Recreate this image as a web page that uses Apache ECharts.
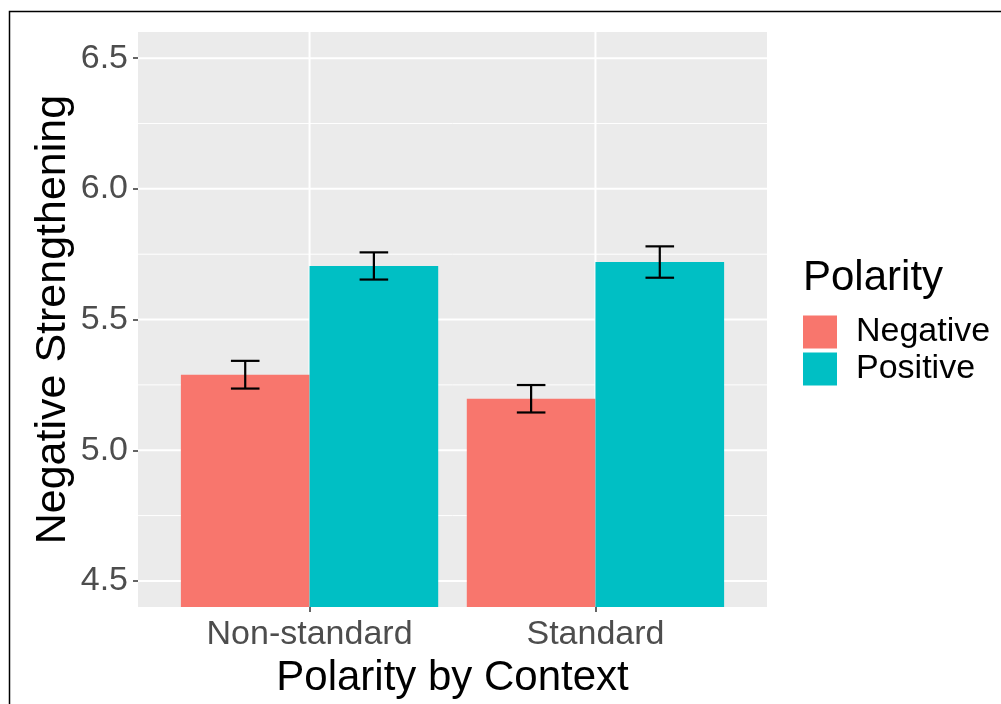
<!DOCTYPE html>
<html>
<head>
<meta charset="utf-8">
<script src="https://cdn.jsdelivr.net/npm/echarts@6/dist/echarts.min.js"></script>
<style>
html,body{margin:0;padding:0;background:#fff;}
#chart{width:1001px;height:704px;}
</style>
</head>
<body>
<div id="chart"></div>
<script>
// ---- data ----
var categories = ['Non-standard', 'Standard'];
var negativeMean = [5.289, 5.197];
var positiveMean = [5.705, 5.720];
var negativeSE = [0.053, 0.0525];
var positiveSE = [0.052, 0.060];
var yTicks = [4.5, 5.0, 5.5, 6.0, 6.5];
var yMinorTicks = [4.75, 5.25, 5.75, 6.25];
var xTicks = [1, 2];
var seriesNames = ['Negative', 'Positive'];

var FONT = 'Liberation Sans, Arial, sans-serif';
var COLORS = ['#F8766D', '#00BFC4'];
var DODGE = 0.225, BAR_W = 0.45, WHISKER = 0.1;
var Y_MIN = 4.4, Y_MAX = 6.6;

function barSeries(name, means, offset, color) {
  return {
    name: name,
    type: 'custom',
    z: 3,
    clip: true,
    itemStyle: {color: color},
    data: means.map(function (m, i) { return [i + 1, m]; }),
    renderItem: function (params, api) {
      var x = api.value(0) + offset;
      var p0 = api.coord([x - BAR_W / 2, api.value(1)]);
      var p1 = api.coord([x + BAR_W / 2, Y_MIN]);
      return {
        type: 'rect',
        shape: {x: p0[0], y: p0[1], width: p1[0] - p0[0], height: p1[1] - p0[1]},
        style: {fill: color}
      };
    }
  };
}

function errSeries(name, means, ses, offset) {
  return {
    name: name + ' SE',
    type: 'custom',
    z: 4,
    silent: true,
    data: means.map(function (m, i) { return [i + 1, m - ses[i], m + ses[i]]; }),
    renderItem: function (params, api) {
      var x = api.value(0) + offset;
      var lo = api.value(1), hi = api.value(2);
      var a = api.coord([x, lo]), b = api.coord([x, hi]);
      var l1 = api.coord([x - WHISKER / 2, lo]), r1 = api.coord([x + WHISKER / 2, lo]);
      var l2 = api.coord([x - WHISKER / 2, hi]), r2 = api.coord([x + WHISKER / 2, hi]);
      var st = {stroke: '#000', lineWidth: 2.2};
      return {
        type: 'group',
        children: [
          {type: 'line', shape: {x1: a[0], y1: a[1], x2: b[0], y2: b[1]}, style: st},
          {type: 'line', shape: {x1: l1[0], y1: l1[1], x2: r1[0], y2: r1[1]}, style: st},
          {type: 'line', shape: {x1: l2[0], y1: l2[1], x2: r2[0], y2: r2[1]}, style: st}
        ]
      };
    }
  };
}

// grid lines drawn through the axes' scales: [dim, value, width]
var gridData = []
  .concat(yMinorTicks.map(function (v) { return [1, v, 1]; }))
  .concat(yTicks.map(function (v) { return [1, v, 2]; }))
  .concat(xTicks.map(function (v) { return [0, v, 2]; }));

var gridSeries = {
  name: 'gridlines',
  type: 'custom',
  z: 1,
  silent: true,
  data: gridData,
  encode: {x: -1, y: -1},
  renderItem: function (params, api) {
    var cs = params.coordSys;
    var dim = api.value(0), v = api.value(1), w = api.value(2);
    var st = {stroke: '#fff', lineWidth: w};
    if (dim === 1) {
      var y = api.coord([1, v])[1];
      return {type: 'line', shape: {x1: cs.x, y1: y, x2: cs.x + cs.width, y2: y}, style: st};
    }
    var x = api.coord([v, 5])[0];
    return {type: 'line', shape: {x1: x, y1: cs.y, x2: x, y2: cs.y + cs.height}, style: st};
  }
};

var chart = echarts.init(document.getElementById('chart'), null, {renderer: 'canvas'});
chart.setOption({
  animation: false,
  backgroundColor: '#fff',
  textStyle: {fontFamily: FONT},
  grid: {
    left: 138, top: 32, right: 234, bottom: 96,
    show: true, backgroundColor: '#EBEBEB', borderWidth: 0,
    containLabel: false
  },
  legend: {
    data: seriesNames,
    orient: 'vertical',
    left: 803, top: 315,
    padding: 0,
    itemWidth: 34, itemHeight: 33, itemGap: 3,
    icon: 'rect',
    textStyle: {fontSize: 34, color: '#000', fontFamily: FONT, padding: [2, 0, 0, 14]},
    selectedMode: false
  },
  xAxis: {
    type: 'value',
    min: 0.4, max: 2.6,
    axisLine: {show: false},
    splitLine: {show: false},
    axisTick: {show: true, customValues: xTicks, length: 5, lineStyle: {color: '#333', width: 1.5}},
    axisLabel: {
      customValues: xTicks,
      formatter: function (v) { return categories[Math.round(v) - 1]; },
      fontSize: 34, color: '#4D4D4D', margin: 11, fontFamily: FONT
    },
    name: 'Polarity by Context',
    nameLocation: 'middle',
    nameGap: 46,
    nameTextStyle: {fontSize: 42, color: '#000', fontFamily: FONT}
  },
  yAxis: {
    type: 'value',
    min: Y_MIN, max: Y_MAX,
    axisLine: {show: false},
    splitLine: {show: false},
    axisTick: {show: true, customValues: yTicks, length: 5, lineStyle: {color: '#333', width: 1.5}},
    axisLabel: {
      customValues: yTicks,
      formatter: function (v) { return v.toFixed(1); },
      fontSize: 34, color: '#4D4D4D', margin: 10, fontFamily: FONT
    },
    name: 'Negative Strengthening',
    nameLocation: 'middle',
    nameRotate: 90,
    nameGap: 63,
    nameMoveOverlap: false,
    nameTextStyle: {fontSize: 43, color: '#000', fontFamily: FONT}
  },
  graphic: [
    {type: 'rect', silent: true, z: 100,
     shape: {x: 9.5, y: 11.5, width: 1200, height: 900},
     style: {fill: 'none', stroke: '#000', lineWidth: 1.5}},
    {type: 'text', left: 803, top: 257, z: 100,
     style: {text: 'Polarity', fontSize: 42, fill: '#000', fontFamily: FONT}}
  ],
  series: [
    gridSeries,
    barSeries(seriesNames[0], negativeMean, -DODGE, COLORS[0]),
    barSeries(seriesNames[1], positiveMean, DODGE, COLORS[1]),
    errSeries(seriesNames[0], negativeMean, negativeSE, -DODGE),
    errSeries(seriesNames[1], positiveMean, positiveSE, DODGE)
  ]
});
</script>
</body>
</html>
